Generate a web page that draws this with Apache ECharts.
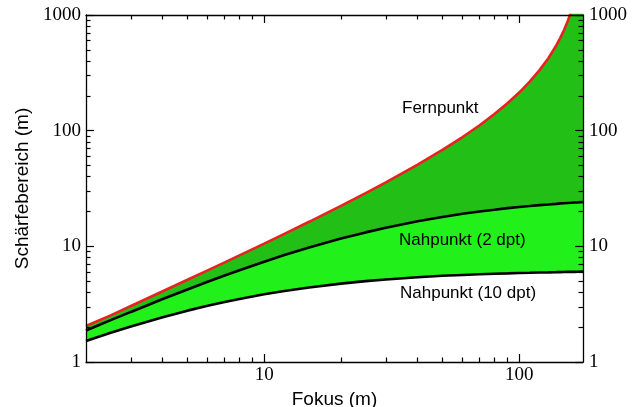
<!DOCTYPE html>
<html><head><meta charset="utf-8">
<script src="https://cdn.jsdelivr.net/npm/echarts@6/dist/echarts.min.js"></script>
<style>html,body{margin:0;padding:0;background:#fff}#c{width:639px;height:407px}</style>
</head><body><div id="c"></div>
<script>
const fokus     = [2, 2.5, 3, 4, 5, 6, 7, 8, 10, 12, 15, 20, 25, 30, 40, 50, 60, 70, 80, 90, 100, 110, 120, 130, 140, 145, 150, 155, 160, 165, 170, 178];
const fernpunkt = [2.05, 2.53, 3.05, 4.09, 5.14, 6.2, 7.27, 8.36, 10.56, 12.8, 16.3, 22.4, 28.8, 35.7, 50.8, 68.1, 88.1, 111.5, 139.3, 172.7, 213.6, 265, 332, 421, 548, 634, 742, 883, 1074, 1349, 1776, 3346];
const nah2dpt   = [1.87, 2.3, 2.71, 3.5, 4.24, 4.94, 5.6, 6.22, 7.37, 8.4, 9.77, 11.67, 13.2, 14.5, 16.5, 17.9, 19.1, 20.0, 20.7, 21.4, 21.9, 22.3, 22.7, 23.0, 23.3, 23.5, 23.6, 23.7, 23.8, 23.9, 24.0, 24.2];
const nah10dpt  = [1.52, 1.79, 2.03, 2.44, 2.78, 3.06, 3.3, 3.51, 3.85, 4.11, 4.41, 4.76, 5.0, 5.17, 5.41, 5.56, 5.66, 5.74, 5.8, 5.84, 5.88, 5.91, 5.94, 5.96, 5.98, 5.99, 6.0, 6.01, 6.02, 6.02, 6.03, 6.04];

const xMajor = [10, 100];
const xMinor = [3, 4, 5, 6, 7, 8, 9, 20, 30, 40, 50, 60, 70, 80, 90];
const yMajor = [1, 10, 100, 1000];
const yMinor = [2, 3, 4, 5, 6, 7, 8, 9, 20, 30, 40, 50, 60, 70, 80, 90, 200, 300, 400, 500, 600, 700, 800, 900];

const labelFont = {color: '#000', fontFamily: 'Liberation Serif', fontSize: 19};

function mkAxis(kind, position, ticks, len, labels, margin, extra) {
  const a = {
    type: 'log', logBase: 10, position: position,
    min: kind === 'x' ? 2 : 1, max: kind === 'x' ? 178 : 1000,
    axisLine: {show: !!(extra && extra.line), lineStyle: {color: '#000', width: 1.3}},
    axisTick: {show: true, inside: true, length: len, customValues: ticks, lineStyle: {color: '#000', width: 1.2}},
    axisLabel: labels ? Object.assign({show: true, customValues: labels, margin: margin,
      formatter: function (v) { return String(Math.round(v)); }}, labelFont) : {show: false},
    splitLine: {show: false}, minorTick: {show: false}, minorSplitLine: {show: false},
    z: 10
  };
  if (extra && extra.name) Object.assign(a, extra.name);
  return a;
}

const chart = echarts.init(document.getElementById('c'), null, {renderer: 'canvas'});
chart.setOption({
  animation: false,
  backgroundColor: '#fff',
  grid: {left: 86, right: 56, top: 15, bottom: 45, containLabel: false, outerBoundsMode: 'none'},
  xAxis: [
    mkAxis('x', 'bottom', xMajor, 8, xMajor, 4, {line: true, name: {
      name: 'Fokus (m)', nameLocation: 'middle', nameGap: 19,
      nameTextStyle: {color: '#000', fontFamily: 'Liberation Sans', fontSize: 19}}}),
    mkAxis('x', 'bottom', xMinor, 4.5, null),
    mkAxis('x', 'top', xMajor, 8, null, 0, {line: true}),
    mkAxis('x', 'top', xMinor, 4.5, null)
  ],
  yAxis: [
    mkAxis('y', 'left', yMajor, 8, yMajor, 5, {line: true, name: {
      name: 'Schärfebereich (m)', nameLocation: 'middle', nameGap: 44,
      nameTextStyle: {color: '#000', fontFamily: 'Liberation Sans', fontSize: 19}}}),
    mkAxis('y', 'left', yMinor, 4.5, null),
    mkAxis('y', 'right', yMajor, 8, yMajor, 6, {line: true}),
    mkAxis('y', 'right', yMinor, 4.5, null)
  ],
  series: [
    {type: 'line', name: 'Fernpunkt', data: fokus.map((x, i) => [x, fernpunkt[i]]),
     symbol: 'none', clip: true, lineStyle: {color: '#E8221E', width: 2.6},
     areaStyle: {color: '#22C016', opacity: 1, origin: 'start'}, z: 2},
    {type: 'line', name: 'Nahpunkt (2 dpt)', data: fokus.map((x, i) => [x, nah2dpt[i]]),
     symbol: 'none', clip: true, lineStyle: {color: '#000', width: 2.6},
     areaStyle: {color: '#22F01A', opacity: 1, origin: 'start'}, z: 3},
    {type: 'line', name: 'Nahpunkt (10 dpt)', data: fokus.map((x, i) => [x, nah10dpt[i]]),
     symbol: 'none', clip: true, lineStyle: {color: '#000', width: 2.6},
     areaStyle: {color: '#fff', opacity: 1, origin: 'start'}, z: 4}
  ],
  graphic: [
    {type: 'text', left: 402, top: 100, style: {text: 'Fernpunkt', fill: '#000', font: '17px "Liberation Sans"'}, z: 20},
    {type: 'text', left: 399, top: 232, style: {text: 'Nahpunkt (2 dpt)', fill: '#000', font: '17px "Liberation Sans"'}, z: 20},
    {type: 'text', left: 400, top: 285, style: {text: 'Nahpunkt (10 dpt)', fill: '#000', font: '17px "Liberation Sans"'}, z: 20}
  ]
});
</script></body></html>
